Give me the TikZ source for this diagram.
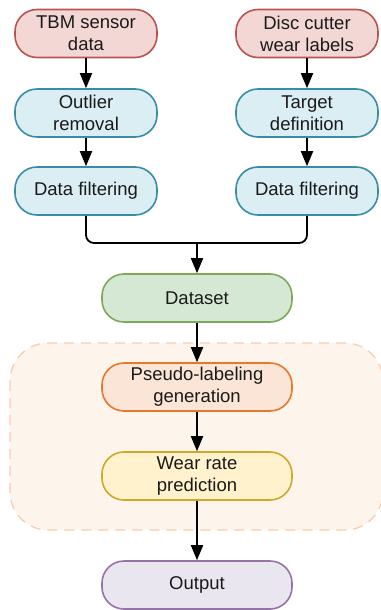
\documentclass[tikz,border=0pt]{standalone}
\usepackage{fontspec}
\setmainfont{Liberation Sans}
\usetikzlibrary{arrows.meta}
\definecolor{redf}{HTML}{F3D7D4}\definecolor{redd}{HTML}{B85450}
\definecolor{bluef}{HTML}{DAEEF3}\definecolor{blued}{HTML}{3A8CA6}
\definecolor{greenf}{HTML}{D5E8D4}\definecolor{greend}{HTML}{7DA85A}
\definecolor{oranf}{HTML}{FBE5D6}\definecolor{orand}{HTML}{E8772E}
\definecolor{yelf}{HTML}{FFF2CC}\definecolor{yeld}{HTML}{CFA82A}
\definecolor{purf}{HTML}{EAE6F0}\definecolor{purd}{HTML}{9673A6}
\definecolor{regf}{HTML}{FDF4EC}\definecolor{regd}{HTML}{F8CBAD}
\definecolor{txt}{HTML}{1A1A1A}
\tikzset{
  pill/.style={draw, line width=1.6pt, rounded corners=22pt, align=center,
    font=\fontsize{18.5pt}{22pt}\selectfont, text=txt, inner sep=0pt},
  smallpill/.style={pill, minimum width=142pt, minimum height=48pt},
  bigpill/.style={pill, minimum width=190pt, minimum height=48pt},
  arr/.style={line width=1.8pt, -{Triangle[length=15pt,width=12pt]}},
  ln/.style={line width=1.8pt},
}
\begin{document}
\begin{tikzpicture}[x=1pt,y=1pt]
\useasboundingbox (0,0) rectangle (380,-610);
\draw[fill=regf, draw=regd, line width=1.2pt, dash pattern=on 10pt off 7pt, rounded corners=38pt] (10,-343) rectangle (383,-530);
\node[smallpill, fill=redf, draw=redd] (tbm) at (86,-33.5) {TBM sensor\\data};
\node[smallpill, fill=redf, draw=redd] (disc) at (307,-33.5) {Disc cutter\\wear labels};
\node[smallpill, fill=bluef, draw=blued] (out) at (86,-113) {Outlier\\removal};
\node[smallpill, fill=bluef, draw=blued] (targ) at (307,-113) {Target\\definition};
\node[smallpill, fill=bluef, draw=blued] (f1) at (86,-191) {Data filtering};
\node[smallpill, fill=bluef, draw=blued] (f2) at (307,-191) {Data filtering};
\node[bigpill, fill=greenf, draw=greend] (ds) at (197,-298) {Dataset};
\node[bigpill, fill=oranf, draw=orand] (ps) at (197,-387) {Pseudo-labeling\\generation};
\node[bigpill, fill=yelf, draw=yeld] (wr) at (197,-476) {Wear rate\\prediction};
\node[bigpill, fill=purf, draw=purd] (op) at (197,-585) {Output};
\coordinate (j) at (197,-243);
\draw[arr] (tbm) -- (out);
\draw[arr] (out) -- (f1);
\draw[arr] (disc) -- (targ);
\draw[arr] (targ) -- (f2);
\draw[ln, rounded corners=8pt] (f1.south) |- (j) -| (f2.south);
\draw[arr] (j) -- (ds);
\draw[arr] (ds) -- (ps);
\draw[arr] (ps) -- (wr);
\draw[arr] (wr) -- (op);
\end{tikzpicture}
\end{document}
